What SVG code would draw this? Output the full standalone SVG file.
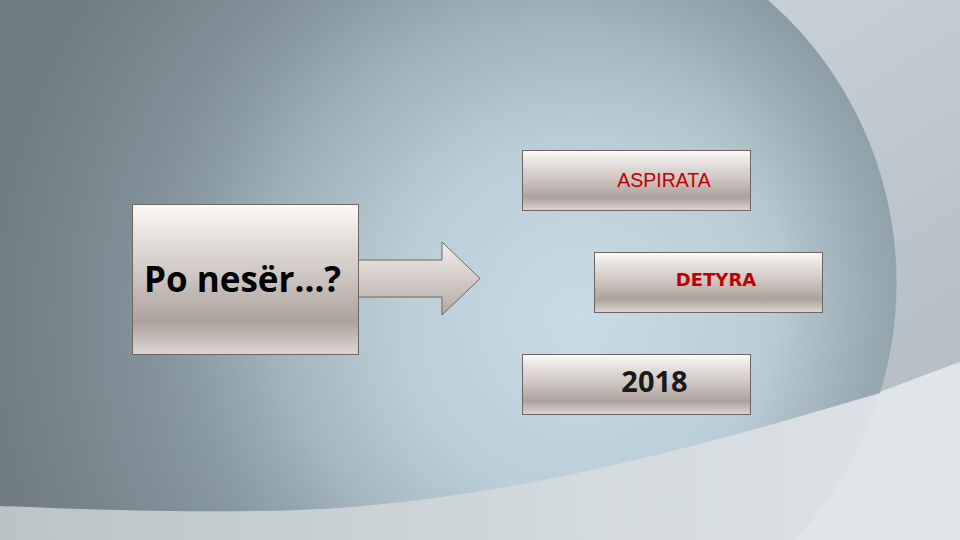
<svg xmlns="http://www.w3.org/2000/svg" width="960" height="540" viewBox="0 0 960 540">
<defs>
<linearGradient id="bgLow" x1="0" y1="0" x2="960" y2="0" gradientUnits="userSpaceOnUse">
<stop offset="0" stop-color="#bcc3c6"/><stop offset="0.6" stop-color="#d3dadd"/><stop offset="1" stop-color="#dde3e6"/>
</linearGradient>
<linearGradient id="bgTR" x1="768" y1="0" x2="960" y2="300" gradientUnits="userSpaceOnUse">
<stop offset="0" stop-color="#c7d0d5"/><stop offset="1" stop-color="#b6c0c6"/>
</linearGradient>
<radialGradient id="bgMain" cx="580" cy="320" r="600" gradientUnits="userSpaceOnUse">
<stop offset="0" stop-color="#c9dbe4"/><stop offset="0.3" stop-color="#bbcdd6"/><stop offset="0.6" stop-color="#97a7af"/><stop offset="0.85" stop-color="#7c8991"/><stop offset="1" stop-color="#6e7a82"/>
</radialGradient>
<radialGradient id="edge" cx="522" cy="283" r="375" gradientUnits="userSpaceOnUse">
<stop offset="0.7" stop-color="#6f7f88" stop-opacity="0"/><stop offset="1" stop-color="#6f7f88" stop-opacity="0.25"/>
</radialGradient>
<linearGradient id="boxFill" x1="0" y1="0" x2="0" y2="1">
<stop offset="0" stop-color="#fdfbfa"/><stop offset="0.15" stop-color="#ebe7e5"/><stop offset="0.5" stop-color="#cbc3bf"/><stop offset="0.78" stop-color="#aca29d"/><stop offset="1" stop-color="#dcd6d3"/>
</linearGradient>
<linearGradient id="arrowFill" x1="0" y1="0" x2="0" y2="1">
<stop offset="0" stop-color="#f2efed"/><stop offset="0.5" stop-color="#d3ccc8"/><stop offset="1" stop-color="#b3a9a4"/>
</linearGradient>
<style>
.box{fill:url(#boxFill);stroke:#6f6662;stroke-width:1}
.red{fill:#c00000}
</style>
</defs>
<g id="background">
<rect x="0" y="0" width="960" height="540" fill="url(#bgLow)"/>
<path d="M768,0 H960 V362 L880,392 A375,375 0 0 0 768,0 Z" fill="url(#bgTR)"/>
<path d="M880,392 L960,362 V540 H795 A375,375 0 0 0 880,392 Z" fill="#dfe5e8"/>
<path d="M0,0 H768 A375,375 0 0 1 880,393 C720,440 520,500 300,510 C180,514 60,508 0,506 Z" fill="url(#bgMain)"/>
<path d="M0,0 H768 A375,375 0 0 1 880,393 C720,440 520,500 300,510 C180,514 60,508 0,506 Z" fill="url(#edge)"/>
</g>
<g id="connectors">
<path d="M358,260 H442 V242 L480,278.5 L442,315 V297 H358 Z" fill="url(#arrowFill)" stroke="#6f6662" stroke-width="1"/>
</g>
<g id="node-po-neser">
<rect class="box" x="132.5" y="204.5" width="226" height="150"/>
<text x="144" y="292" font-family="'Open Sans', 'DejaVu Sans', sans-serif" font-weight="bold" font-size="35" fill="#000">Po nesër…?</text>
</g>
<g id="node-aspirata">
<rect class="box" x="522.5" y="150.5" width="228" height="60"/>
<text x="664" y="187" text-anchor="middle" class="red" font-family="'Liberation Sans', sans-serif" font-size="19.5">ASPIRATA</text>
</g>
<g id="node-detyra">
<rect class="box" x="594.5" y="252.5" width="228" height="60"/>
<text x="716" y="286" text-anchor="middle" class="red" font-family="'DejaVu Sans', sans-serif" font-weight="bold" font-size="18">DETYRA</text>
</g>
<g id="node-2018">
<rect class="box" x="522.5" y="354.5" width="228" height="60"/>
<text x="654.5" y="392" text-anchor="middle" font-family="'Open Sans', sans-serif" font-weight="bold" font-size="29" fill="#1a1a1a">2018</text>
</g>
</svg>
